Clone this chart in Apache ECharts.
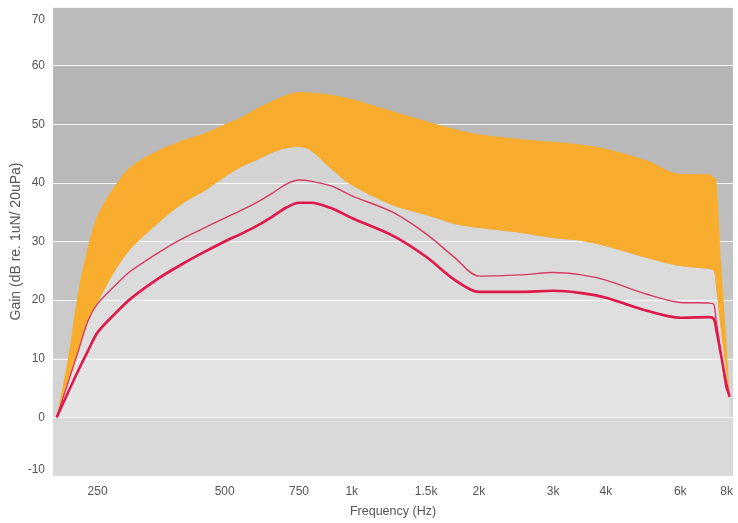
<!DOCTYPE html>
<html>
<head>
<meta charset="utf-8">
<title>Gain vs Frequency</title>
<script src="https://cdn.jsdelivr.net/npm/echarts@6/dist/echarts.min.js"></script>
<style>
  html, body { margin: 0; padding: 0; background: #ffffff; }
  #chart { width: 738px; height: 523px; }
</style>
</head>
<body>
<div id="chart"></div>
<script>
// Frequencies (Hz) at which the curves are sampled
const freqs = [200, 212, 225, 237, 250, 275, 300, 350, 400, 450, 500, 550, 600, 650, 700, 750, 800, 900, 1000, 1250, 1500, 1750, 2000, 2500, 3000, 3500, 4000, 5000, 6000, 7000, 7200, 7300, 7500, 7700, 7850];

// Fitting range: upper and lower edges of the orange band (dB)
const upperEdge = [0, 9.5, 21.5, 29, 34.5, 39.5, 42.8, 45.6, 47.3, 48.5, 50, 51.3, 52.8, 54, 55, 55.5, 55.4, 55, 54.3, 52.2, 50.5, 49.2, 48.3, 47.5, 47, 46.5, 45.8, 43.8, 41.5, 41.5, 40.9, 40.6, 26, 14, 4.2];
const lowerEdge = [0, 5.6, 11.3, 16.4, 19.6, 25, 28.8, 33.3, 36.6, 38.7, 41, 42.8, 44, 45.2, 45.9, 46.1, 45.5, 42.2, 39.6, 36.2, 34.5, 33, 32.3, 31.5, 30.6, 30.1, 29.2, 27.2, 25.8, 25.3, 25, 22, 14.5, 8, 3.6];

// Measured gain curves (dB)
const gainThin = [0, 5.6, 11.3, 16.4, 19.4, 22.5, 25, 28.2, 30.6, 32.4, 34, 35.4, 36.8, 38.3, 39.8, 40.5, 40.3, 39.4, 37.8, 35, 31.3, 27.3, 24.1, 24.3, 24.7, 24.3, 23.4, 21, 19.6, 19.5, 19.3, 16.5, 10.8, 5, 3.8];
const gainThick = [0, 4, 8, 11.3, 14.5, 17.7, 20.3, 23.8, 26.3, 28.3, 30, 31.4, 32.8, 34.3, 35.8, 36.6, 36.6, 35.6, 34, 31, 27.4, 23.5, 21.4, 21.4, 21.6, 21.2, 20.4, 18.2, 17, 17.1, 16.8, 15, 10.5, 6, 3.5];

// Axis tick positions and their labels
const tickFreqs = [250, 500, 750, 1000, 1500, 2000, 3000, 4000, 6000, 8000];
const tickLabels = ['250', '500', '750', '1k', '1.5k', '2k', '3k', '4k', '6k', '8k'];
const gainTicks = [-10, 0, 10, 20, 30, 40, 50, 60, 70];

// Rows are [gain, frequency]; the gain column comes first so that stacking sums gains
const rows = vals => freqs.map((f, i) => [vals[i], f]);
const bandWidth = upperEdge.map((u, i) => +(u - lowerEdge[i]).toFixed(2));
const ENC = { x: 1, y: 0 };

const FONT = "'Liberation Sans', Arial, sans-serif";

const chart = echarts.init(document.getElementById('chart'), null, { renderer: 'canvas' });

chart.setOption({
  animation: false,
  backgroundColor: '#ffffff',
  textStyle: { fontFamily: FONT },
  grid: { left: 53, right: 5, top: 7, bottom: 47, containLabel: false, outerBoundsMode: 'none' },
  xAxis: {
    type: 'log',
    logBase: 2,
    min: 196,
    max: 8000,
    name: 'Frequency (Hz)',
    nameLocation: 'middle',
    nameGap: 29,
    nameTextStyle: { color: '#555555', fontSize: 12.5, fontFamily: FONT },
    axisLine: { show: false },
    axisTick: { show: false },
    splitLine: { show: false },
    axisLabel: {
      customValues: tickFreqs,
      margin: 10,
      color: '#555555',
      fontSize: 12,
      fontFamily: FONT,
      alignMaxLabel: 'right',
      formatter: function (v) {
        let best = 0;
        tickFreqs.forEach((t, i) => {
          if (Math.abs(t - v) < Math.abs(tickFreqs[best] - v)) best = i;
        });
        return tickLabels[best];
      }
    }
  },
  yAxis: {
    type: 'value',
    min: gainTicks[0],
    max: gainTicks[gainTicks.length - 1],
    interval: 10,
    name: 'Gain (dB re. 1uN/ 20uPa)',
    nameLocation: 'middle',
    nameGap: 30,
    nameMoveOverlap: false,
    nameTextStyle: { color: '#555555', fontSize: 14, fontFamily: FONT },
    axisLine: { show: false },
    axisTick: { show: false },
    axisLabel: {
      margin: 8,
      color: '#555555',
      fontSize: 12,
      fontFamily: FONT,
      verticalAlignMaxLabel: 'top',
      verticalAlignMinLabel: 'bottom',
      formatter: function (v) {
        return v === gainTicks[gainTicks.length - 1] ? '{top|' + v + '}' : String(v);
      },
      rich: {
        top: { padding: [7, 0, 0, 0], color: '#555555', fontSize: 12, fontFamily: FONT }
      }
    },
    splitLine: { show: true, lineStyle: { color: 'rgba(255,255,255,0.85)', width: 1.2 } },
    splitArea: {
      show: true,
      areaStyle: {
        color: ['#d9d9d9', '#d3d3d3', '#cbcbcb', '#c4c4c4', '#bebebe', '#b9b9b9', '#b5b5b5', '#bcbcbc']
      }
    }
  },
  series: [
    {
      name: 'below range',
      type: 'line',
      stack: 'range',
      encode: ENC,
      data: rows(lowerEdge),
      smooth: 0.3,
      symbol: 'none',
      lineStyle: { width: 0 },
      areaStyle: { color: 'rgba(255,255,255,0.56)' },
      silent: true,
      z: 1
    },
    {
      name: 'fitting range',
      type: 'line',
      stack: 'range',
      encode: ENC,
      data: rows(bandWidth),
      smooth: 0.3,
      symbol: 'none',
      lineStyle: { width: 0 },
      areaStyle: { color: '#f8ad2e', opacity: 1 },
      silent: true,
      z: 2
    },
    {
      name: 'gain (upper)',
      type: 'line',
      encode: ENC,
      data: rows(gainThin),
      smooth: 0.3,
      symbol: 'none',
      lineStyle: { color: '#d83a62', width: 1.4 },
      z: 3
    },
    {
      name: 'gain',
      type: 'line',
      encode: ENC,
      data: rows(gainThick),
      smooth: 0.3,
      symbol: 'none',
      lineStyle: { color: '#e0184b', width: 2.6 },
      z: 4
    }
  ]
});
</script>
</body>
</html>
